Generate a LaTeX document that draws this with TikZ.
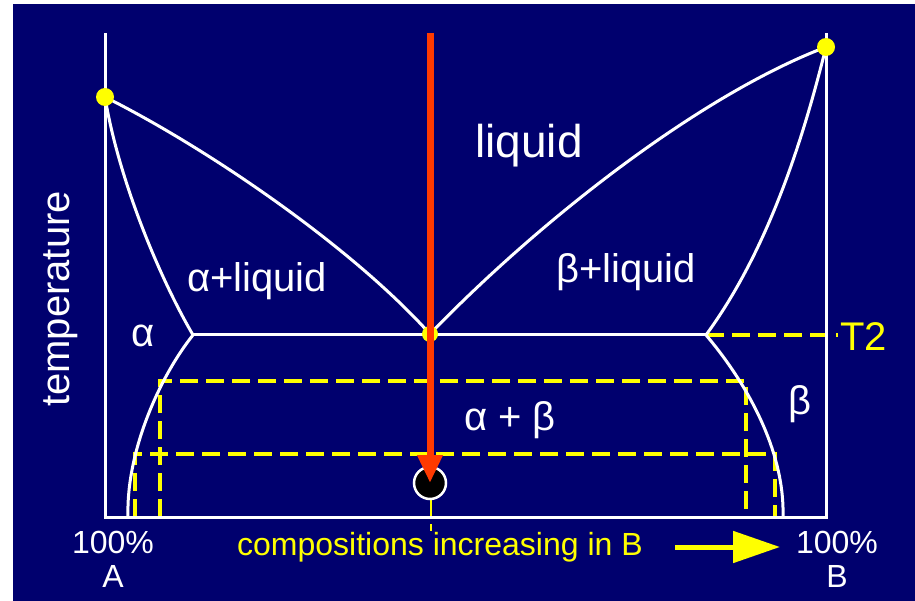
\documentclass[tikz,border=0pt]{standalone}
\usepackage{fontspec}
\setmainfont{Liberation Sans}
\usetikzlibrary{arrows.meta}
\definecolor{navy}{RGB}{0,0,110}
\definecolor{redarrow}{RGB}{255,58,0}
\definecolor{yel}{RGB}{255,255,0}
\tikzset{
  wline/.style={draw=white,line width=3pt},
  ydash/.style={draw=yel,line width=3.5pt,dash pattern=on 18pt off 8pt},
  ydot/.style={circle,fill=yel,inner sep=0pt,minimum size=18pt},
  lbl/.style={text=white,inner sep=0pt},
  fs/.style={font=\fontsize{#1}{#1}\selectfont}
}
\begin{document}
\begin{tikzpicture}[x=1pt,y=-1pt]
\useasboundingbox (0,0) rectangle (915,601);
\fill[white] (0,0) rectangle (915,601);
\fill[navy] (13,4) rectangle (915,601);
% key points
\coordinate (A) at (105,97);
\coordinate (B) at (826,47);
\coordinate (E) at (430,334);
\coordinate (EL) at (193,335);
\coordinate (ER) at (706,335);
\coordinate (SL) at (128,517);
\coordinate (SR) at (783,517);
% dashed guides
\draw[ydash] (160,517) -- (160,381) -- (746,381) -- (746,517);
\draw[ydash] (135,517) -- (135,454) -- (775,454) -- (775,517);
\draw[ydash] (ER) -- (838,335);
% yellow tick under circle
\draw[yel,line width=2.5pt] (431,498) -- (431,517);
\draw[yel,line width=2.5pt] (431,524) -- (431,531);
% phase boundaries
\draw[wline] (A) .. controls (205,147) and (350,245) .. (E);
\draw[wline] (E) .. controls (540,220) and (700,95) .. (B);
\draw[wline] (EL) -- (ER);
\draw[wline] (A) .. controls (118,177) and (158,275) .. (EL);
\draw[wline] (EL) .. controls (161,375) and (126,450) .. (SL);
\draw[wline] (B) .. controls (806,127) and (772,245) .. (ER);
\draw[wline] (ER) .. controls (740,375) and (785,445) .. (SR);
% axes
\draw[wline] (105,33) -- (105,517) -- (826,517) -- (826,33);
% dots
\node[ydot] (dA) at (A) {};
\node[ydot] (dB) at (B) {};
\node[ydot,minimum size=16pt] (dE) at (E) {};
\node[circle,fill=black,draw=white,line width=2.5pt,minimum size=32pt,inner sep=0pt] (pt) at (430,483) {};
% red arrow
\coordinate (top) at (430,33);
\draw[redarrow,line width=7pt,-{Triangle[length=28pt,width=24pt]}] (top) -- (pt.center);
% labels
\node[lbl,fs=46,anchor=base] (liq) at (529,158) {liquid};
\node[lbl,fs=40,anchor=base] (al) at (257,292) {α+liquid};
\node[lbl,fs=40,anchor=base] (bl) at (626,283) {β+liquid};
\node[lbl,fs=40,anchor=base] (a) at (143,347) {α};
\node[lbl,fs=40,anchor=base] (b) at (800,414) {β};
\node[lbl,fs=40,anchor=base] (ab) at (510,430) {α + β};
\node[text=yel,inner sep=0pt,fs=40,anchor=base west] (t2) at (840,350) {T2};
\node[lbl,fs=40,rotate=90] (temp) at (61,299) {temperature};
\node[lbl,fs=32,anchor=base] (pa) at (113,553) {100\%};
\node[lbl,fs=32,anchor=base] (la) at (113,587) {A};
\node[lbl,fs=32,anchor=base] (pb) at (837,553) {100\%};
\node[lbl,fs=32,anchor=base] (lb) at (837,587) {B};
\node[text=yel,inner sep=0pt,fs=32,anchor=base west] (comp) at (237,555) {compositions increasing in B};
\coordinate (ya1) at (675,547);
\coordinate (ya2) at (780,547);
\draw[yel,line width=5pt,-{Triangle[length=47pt,width=31pt]}] (ya1) -- (ya2);
\end{tikzpicture}
\end{document}
